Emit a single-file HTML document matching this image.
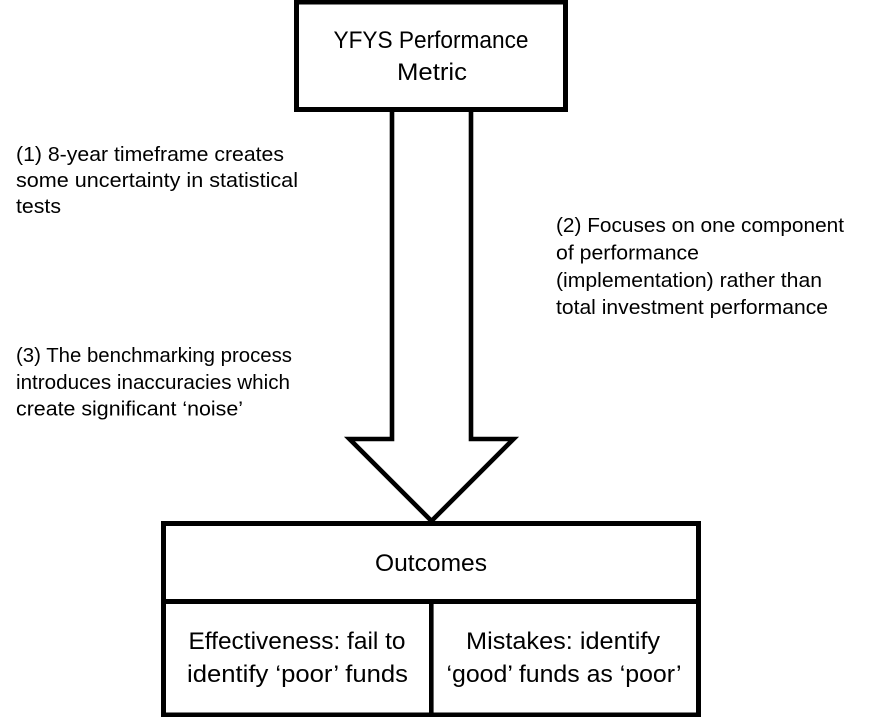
<!DOCTYPE html>
<html>
<head>
<meta charset="utf-8">
<style>
  html, body { margin: 0; padding: 0; background: #ffffff; }
  body { width: 886px; height: 717px; overflow: hidden; }
  svg { display: block; }
  text { font-family: "Liberation Sans", "DejaVu Sans", sans-serif; fill: #000; }
  .side { font-size: 20.5px; }
  .box { font-size: 24px; }
</style>
</head>
<body>
<svg width="886" height="717" viewBox="0 0 886 717" xmlns="http://www.w3.org/2000/svg">
  <rect x="0" y="0" width="886" height="717" fill="#ffffff"/>

  <!-- Top box -->
  <rect x="296.5" y="2" width="269" height="107.5" fill="#fff" stroke="#000" stroke-width="5"/>
  <text class="box" x="431" y="48" text-anchor="middle" textLength="195" lengthAdjust="spacingAndGlyphs">YFYS Performance</text>
  <text class="box" x="432" y="80" text-anchor="middle" textLength="70" lengthAdjust="spacingAndGlyphs">Metric</text>

  <!-- Block arrow -->
  <polyline points="392,112 392,439 349.5,439 431.5,521 513.5,439 471,439 471,112"
            fill="#fff" stroke="#000" stroke-width="4.6" stroke-linejoin="miter" stroke-miterlimit="10"/>

  <!-- Bottom box -->
  <rect x="163.5" y="523.5" width="535" height="191.5" fill="#fff" stroke="#000" stroke-width="5"/>
  <line x1="163.5" y1="601.5" x2="698.5" y2="601.5" stroke="#000" stroke-width="5"/>
  <line x1="431.3" y1="601.5" x2="431.3" y2="715" stroke="#000" stroke-width="4.6"/>

  <text class="box" x="431" y="571" text-anchor="middle" textLength="112" lengthAdjust="spacingAndGlyphs">Outcomes</text>
  <text class="box" x="297" y="649" text-anchor="middle" textLength="217" lengthAdjust="spacingAndGlyphs">Effectiveness: fail to</text>
  <text class="box" x="297.5" y="682" text-anchor="middle" textLength="221" lengthAdjust="spacingAndGlyphs">identify ‘poor’ funds</text>
  <text class="box" x="563" y="649" text-anchor="middle" textLength="194" lengthAdjust="spacingAndGlyphs">Mistakes: identify</text>
  <text class="box" x="564" y="682" text-anchor="middle" textLength="235" lengthAdjust="spacingAndGlyphs">‘good’ funds as ‘poor’</text>

  <!-- Side annotation (1) -->
  <text class="side" x="16" y="161" textLength="268" lengthAdjust="spacingAndGlyphs">(1) 8-year timeframe creates</text>
  <text class="side" x="16" y="187" textLength="282" lengthAdjust="spacingAndGlyphs">some uncertainty in statistical</text>
  <text class="side" x="16" y="213" textLength="45" lengthAdjust="spacingAndGlyphs">tests</text>

  <!-- Side annotation (2) -->
  <text class="side" x="556" y="232" textLength="288" lengthAdjust="spacingAndGlyphs">(2) Focuses on one component</text>
  <text class="side" x="556" y="259.5" textLength="143" lengthAdjust="spacingAndGlyphs">of performance</text>
  <text class="side" x="556" y="287" textLength="266" lengthAdjust="spacingAndGlyphs">(implementation) rather than</text>
  <text class="side" x="556" y="314" textLength="272" lengthAdjust="spacingAndGlyphs">total investment performance</text>

  <!-- Side annotation (3) -->
  <text class="side" x="16" y="362" textLength="276" lengthAdjust="spacingAndGlyphs">(3) The benchmarking process</text>
  <text class="side" x="16" y="389" textLength="274" lengthAdjust="spacingAndGlyphs">introduces inaccuracies which</text>
  <text class="side" x="16" y="415.5" textLength="227" lengthAdjust="spacingAndGlyphs">create significant ‘noise’</text>
</svg>
</body>
</html>
